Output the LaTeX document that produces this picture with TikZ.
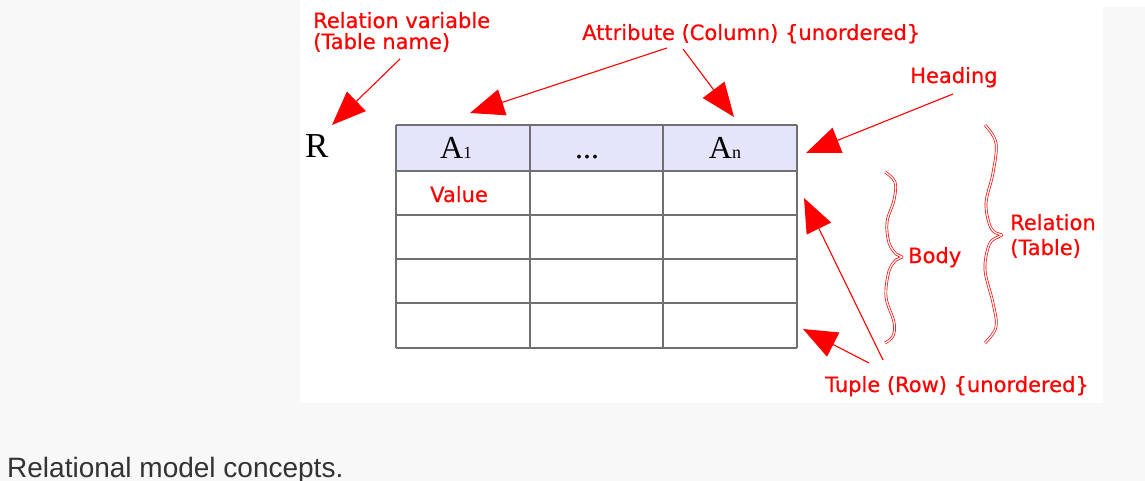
\documentclass[tikz,border=0pt]{standalone}
\usepackage{fontspec}
\newfontfamily\labfont[FakeBold=0.5]{DejaVu Sans}
\newfontfamily\capfont{Liberation Sans}
\newfontfamily\serfont{Liberation Serif}
\usetikzlibrary{arrows.meta}
\definecolor{bg}{HTML}{F8F8F8}
\definecolor{headfill}{HTML}{E4E4FA}
\definecolor{gridc}{HTML}{707070}
\definecolor{capc}{HTML}{333333}
\begin{document}
\begin{tikzpicture}[x=1pt,y=-1pt,
 lab/.style={font=\labfont\fontsize{21}{24}\selectfont, text=red, inner sep=0, anchor=base west},
 redarrow/.style={draw=red, line width=1.1pt, -{Triangle[length=34pt,width=27pt]}},
 bracestyle/.style={draw=red, line width=0.7pt, double=white, double distance=1.3pt, line join=round},
 gridline/.style={draw=gridc, line width=1.5pt},
 serifbig/.style={font=\serfont\fontsize{32}{32}\selectfont, inner sep=0, anchor=base}]
% background
\fill[bg] (0,0) rectangle (1145,481);
\fill[white] (300,0) rectangle (1103,403);
\fill[white] (1103,0) rectangle (1145,7);
\useasboundingbox (0,0) rectangle (1145,481);
% table
\fill[headfill] (396,125) rectangle (797,171);
\foreach \yy in {125,171,215,259,303,348} \draw[gridline] (396,\yy) -- (797,\yy);
\foreach \xx in {396,530,663,797} \draw[gridline] (\xx,125) -- (\xx,348);
% cell texts
\node[font=\serfont\fontsize{35}{35}\selectfont, inner sep=0, anchor=base west] (R) at (305,158) {R};
\node[serifbig] (a1) at (456,159) {A{\fontsize{17}{17}\selectfont 1}};
\node[serifbig] (dots) at (587,159) {...};
\node[serifbig] (an) at (725,159) {A{\fontsize{18}{18}\selectfont n}};
\node[lab] (value) at (430,202) {Value};
% labels
\node[lab] (relvar) at (313,28) {Relation variable};
\node[lab] (tabname) at (313,49) {(Table name)};
\node[lab] (attr) at (582,40) {Attribute (Column) \{unordered\}};
\node[lab] (heading) at (910,83) {Heading};
\node[lab] (body) at (908,263) {Body};
\node[lab] (relation) at (1010,230) {Relation};
\node[lab] (table) at (1010,255) {(Table)};
\node[lab] (tuple) at (825,392) {Tuple (Row) \{unordered\}};
\node[font=\capfont\fontsize{28}{30}\selectfont, text=capc, anchor=base west, inner sep=0] (caption) at (7,477) {Relational model concepts.};
% arrow coordinates
\coordinate (t1) at (400,59);   \coordinate (h1) at (332,125);
\coordinate (t2) at (667,48);   \coordinate (h2) at (470,113);
\coordinate (t3) at (683,49);   \coordinate (h3) at (734,117);
\coordinate (t4) at (953,94);   \coordinate (h4) at (806,153);
\coordinate (t5) at (883,360);  \coordinate (h5) at (804,198);
\coordinate (t6) at (869,363);  \coordinate (h6) at (803,329);
\draw[redarrow] (t1) -- (h1);
\draw[redarrow] (t2) -- (h2);
\draw[redarrow] (t3) -- (h3);
\draw[redarrow] (t4) -- (h4);
\draw[redarrow] (t5) -- (h5);
\draw[redarrow] (t6) -- (h6);
% braces (hand-drawn wavy curly brackets)
\draw[bracestyle] plot[smooth, tension=0.6] coordinates
  {(885,172) (895,182) (894,200) (887,222) (889,243) (896,254)}
  -- (902,257) -- plot[smooth, tension=0.6] coordinates
  {(896,260) (889,271) (886,297) (894,322) (893,336) (885,343)};
\draw[bracestyle] plot[smooth, tension=0.6] coordinates
  {(985,125) (996,143) (993,173) (986,203) (990,226) (996,233)}
  -- (1002,235) -- plot[smooth, tension=0.6] coordinates
  {(996,238) (989,245) (985,270) (993,303) (996,327) (985,343)};
\end{tikzpicture}
\end{document}
